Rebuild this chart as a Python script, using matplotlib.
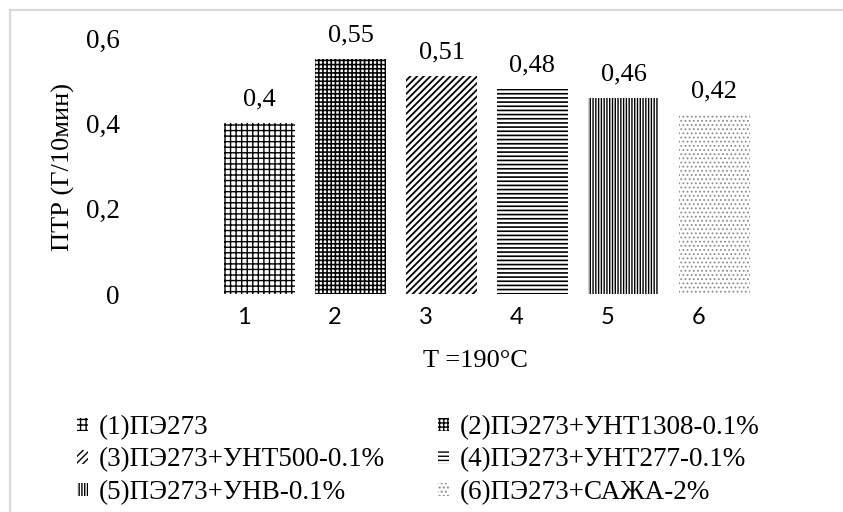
import numpy as np
import matplotlib.pyplot as plt
import matplotlib.transforms as mtransforms
from matplotlib.lines import Line2D

# data
categories = ['1', '2', '3', '4', '5', '6']
ptr_values = [0.40, 0.55, 0.51, 0.48, 0.46, 0.42]
value_labels = ['0,4', '0,55', '0,51', '0,48', '0,46', '0,42']
series_names = ['(1)ПЭ273', '(2)ПЭ273+УНТ1308-0.1%', '(3)ПЭ273+УНТ500-0.1%',
                '(4)ПЭ273+УНТ277-0.1%', '(5)ПЭ273+УНВ-0.1%', '(6)ПЭ273+САЖА-2%']
y_ticks = [0, 0.2, 0.4, 0.6]
y_tick_labels = ['0', '0,2', '0,4', '0,6']

# pattern fills (excel-like)
hatches = ['+++', '++++', '/////', '----', '||||||', '....']
hatch_colors = ['black', 'black', 'black', 'black', 'black', '#8c8c8c']
hatch_widths = [1.0, 1.15, 1.3, 1.2, 1.0, 0.8]

serif = ['Liberation Serif', 'DejaVu Serif']
W, H = 843, 512

fig = plt.figure(figsize=(W / 100, H / 100), dpi=100)
ax = fig.add_axes([214 / W, 1 - 294 / H, 546 / W, 256 / H])

x = np.arange(len(categories))
bars = []
for i in range(len(categories)):
    b = ax.bar(x[i], ptr_values[i], width=0.79, color='white',
               edgecolor=hatch_colors[i], linewidth=0, hatch=hatches[i])
    p = b.patches[0]
    if hasattr(p, 'set_hatch_linewidth'):
        p.set_hatch_linewidth(hatch_widths[i])
    bars.append(p)

for i in range(len(categories)):
    ax.annotate(value_labels[i], (x[i], ptr_values[i]), xytext=(0, 17),
                textcoords='offset points', ha='center', va='center',
                family=serif, fontsize=19)

ax.set_xlim(-0.5, len(categories) - 0.5)
ax.set_ylim(0, 0.6)
ax.set_yticks(y_ticks, y_tick_labels, family=serif, fontsize=19.5)
ax.set_xticks(x, categories, family=['Lato', 'DejaVu Sans'], fontsize=17)
ax.tick_params(axis='y', length=0, pad=68)
ax.tick_params(axis='x', length=0, pad=9)
shift = mtransforms.ScaledTranslation(-0.16, 0, fig.dpi_scale_trans)
for lab in ax.get_xticklabels():
    lab.set_transform(lab.get_transform() + shift)
for s in ax.spines.values():
    s.set_visible(False)

fig.text(63.5 / W, 1 - 167 / H, 'ПТР (Г/10мин)', rotation=90, ha='center',
         va='center', family=serif, fontsize=19)
fig.text(475 / W, 1 - 361 / H, 'T =190°C', ha='center', va='center',
         family=serif, fontsize=19)

# legend: excel fills row by row, so two columns as two legends
leg_kw = dict(frameon=False, loc='upper left', prop={'family': serif, 'size': 19.5},
              handlelength=0.4, handleheight=0.38, handletextpad=0.42,
              labelspacing=0.28, borderpad=0, borderaxespad=0)
leg1 = fig.legend([bars[0], bars[2], bars[4]],
                  [series_names[0], series_names[2], series_names[4]],
                  bbox_to_anchor=(77 / W, 1 - 415 / H), **leg_kw)
leg2 = fig.legend([bars[1], bars[3], bars[5]],
                  [series_names[1], series_names[3], series_names[5]],
                  bbox_to_anchor=(438 / W, 1 - 415 / H), **leg_kw)

# light chart-area border (cropped on right and bottom)
border = dict(color='#d9d9d9', linewidth=1.5, transform=fig.transFigure)
fig.add_artist(Line2D([10 / W, 10 / W], [0, 1 - 10 / H], **border))
fig.add_artist(Line2D([10 / W, 1], [1 - 10 / H, 1 - 10 / H], **border))

fig.savefig('out.png', dpi=100)
